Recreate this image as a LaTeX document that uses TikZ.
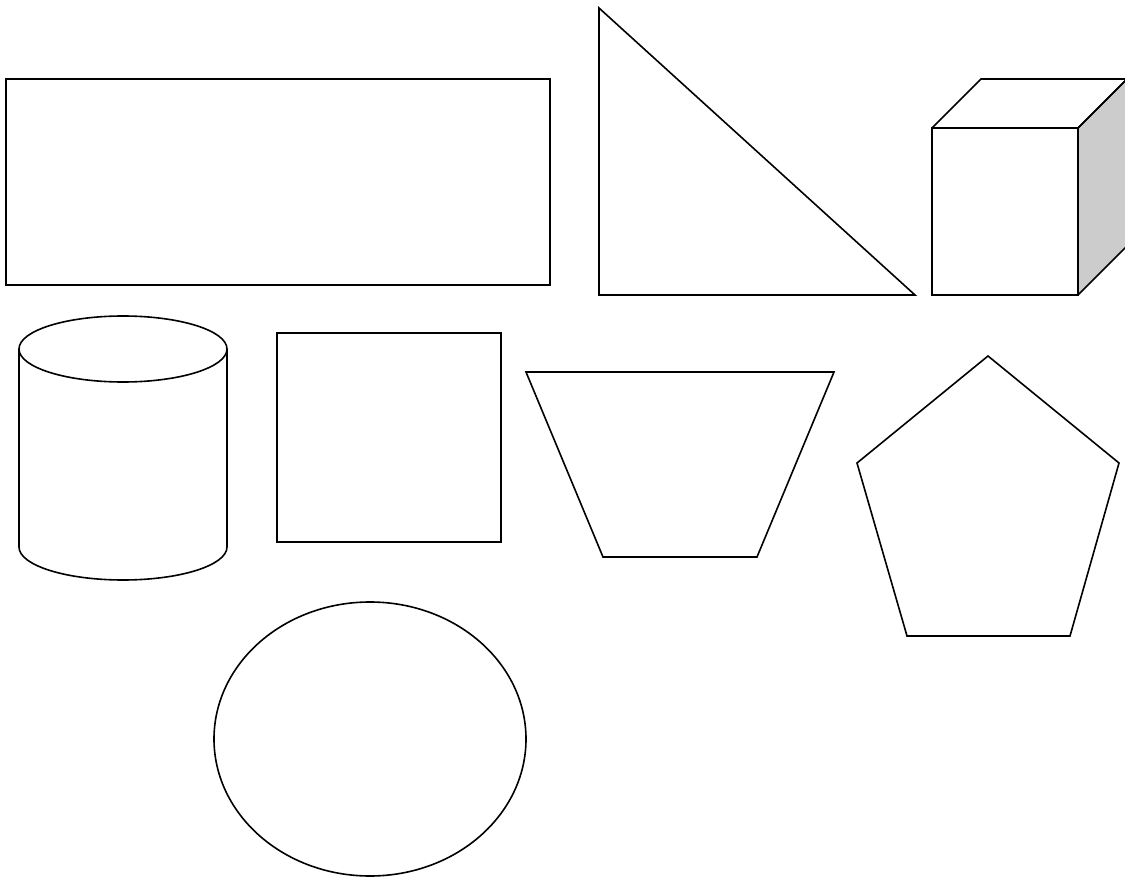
\documentclass[tikz,border=0pt]{standalone}
\usepackage{tikz}
\usetikzlibrary{calc}

\begin{document}
\begin{tikzpicture}[x=1pt, y=-1pt, line join=miter]
\tikzset{shape line/.style={draw=black, line width=1.6pt}}

\useasboundingbox (0,0) rectangle (1125,877);

% ── Row 1 ──────────────────────────────────────
% Rectangle
\draw[shape line] (6,79) rectangle (550,285);

% Right triangle
\draw[shape line] (599,8) -- (599,295) -- (915,295) -- cycle;

% Cube (front face, top face, shaded side)
\fill[gray!40] (1078,128) -- (1127,79) -- (1127,246) -- (1078,295) -- cycle;
\draw[shape line] (932,128) rectangle (1078,295);
\draw[shape line] (932,128) -- (981,79) -- (1127,79) -- (1078,128);
\draw[shape line] (1078,128) -- (1127,79);
\draw[shape line] (1078,295) -- (1127,246);

% ── Row 2 ──────────────────────────────────────
% Cylinder
\draw[shape line] (123,349) ellipse (104 and 33);
\draw[shape line] (19,349) -- (19,547) arc[start angle=180, end angle=360, x radius=104, y radius=-33] -- (227,349);

% Square
\draw[shape line] (277,333) rectangle (501,542);

% Trapezoid
\draw[shape line] (526,372) -- (834,372) -- (757,557) -- (603,557) -- cycle;

% Pentagon
\draw[shape line] (988,356) -- (1119,463) -- (1070,636) -- (907,636) -- (857,463) -- cycle;

% ── Row 3 ──────────────────────────────────────
% Ellipse
\draw[shape line] (370,739) ellipse (156 and 137);

\end{tikzpicture}
\end{document}
